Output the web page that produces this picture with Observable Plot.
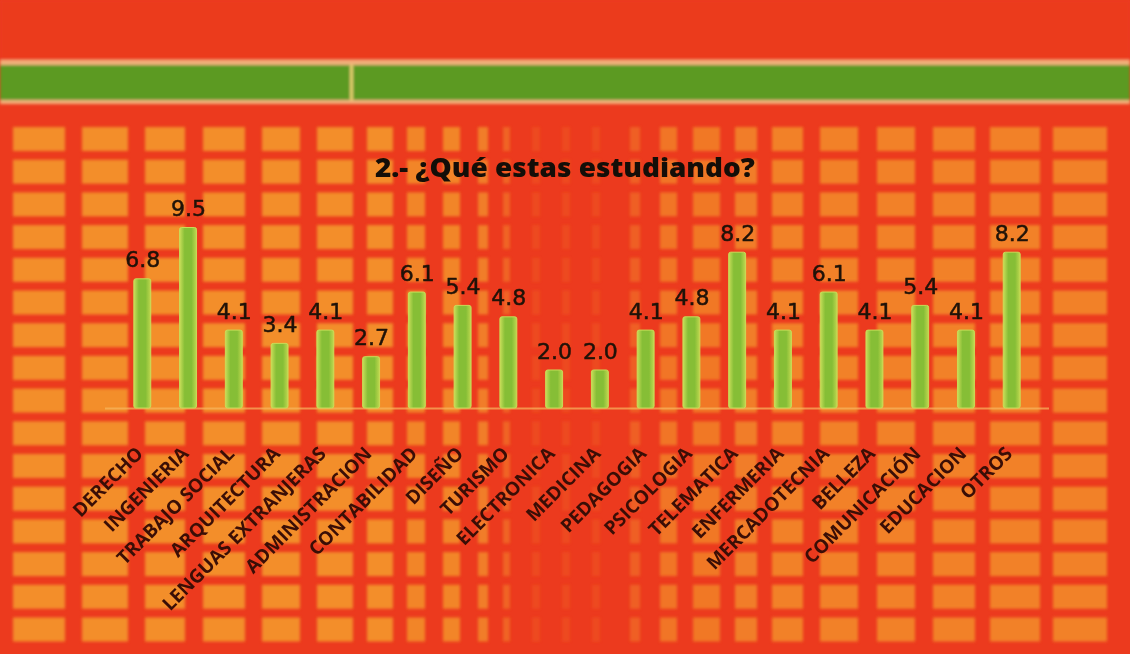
<!DOCTYPE html>
<html>
<head>
<meta charset="utf-8">
<script src="https://cdn.jsdelivr.net/npm/d3@7"></script>
<script src="https://cdn.jsdelivr.net/npm/@observablehq/plot@0.6"></script>
<style>
  body { margin: 0; background: #EC3A1E; }
  #wrap { position: relative; width: 1130px; height: 654px; overflow: hidden; }
  #bg, #chart { position: absolute; left: 0; top: 0; }
  #title {
    position: absolute; left: 0; top: 149px; width: 1130px; text-align: center;
    font-family: "Open Sans", sans-serif; font-weight: 800; font-size: 26px; color: #140E08;
    white-space: nowrap;
  }
  #title span { display: inline-block; transform-origin: center; }
</style>
</head>
<body>
<div id="wrap">
  <div id="bg"></div>
  <div id="chart"></div>
  <div id="title"><span>2.- ¿Qué estas estudiando?</span></div>
</div>
<script>
// ---- data ----
const categories = [
  "DERECHO", "INGENIERIA", "TRABAJO SOCIAL", "ARQUITECTURA", "LENGUAS EXTRANJERAS",
  "ADMINISTRACION", "CONTABILIDAD", "DISEÑO", "TURISMO", "ELECTRONICA",
  "MEDICINA", "PEDAGOGIA", "PSICOLOGIA", "TELEMATICA", "ENFERMERIA",
  "MERCADOTECNIA", "BELLEZA", "COMUNICACIÓN", "EDUCACION", "OTROS"
];
const values = [6.8, 9.5, 4.1, 3.4, 4.1, 2.7, 6.1, 5.4, 4.8, 2.0, 2.0, 4.1, 4.8, 8.2, 4.1, 6.1, 4.1, 5.4, 4.1, 8.2];

const data = categories.map((c, i) => ({cat: c, val: values[i]}));

// ---- decorative background (scanned grid pattern) ----
const W = 1130, H = 654;
const cellCols = [
  [13, 65, 1], [82, 128, 1], [145, 185, 1], [203, 245, 1], [262, 300, 1], [317, 353, 1],
  [367, 393, 1], [407, 425, 0.9], [443, 460, 0.9], [478, 488, 0.8], [503, 510, 0.5],
  [532, 540, 0.2], [562, 570, 0.2], [592, 600, 0.2], [630, 640, 0.45], [660, 677, 0.7],
  [693, 720, 0.75], [735, 757, 0.8], [772, 803, 0.85], [820, 858, 0.85], [877, 915, 0.85],
  [933, 975, 0.85], [990, 1040, 0.85], [1053, 1107, 0.85]
];
const bgSvg = d3.select("#bg").append("svg").attr("width", W).attr("height", H);
const bgDefs = bgSvg.append("defs");
bgDefs.append("filter").attr("id", "blur").append("feGaussianBlur").attr("stdDeviation", 1.8);
bgSvg.append("rect").attr("width", W).attr("height", H).attr("fill", "#EC3A1E");
const cellsG = bgSvg.append("g").attr("filter", "url(#blur)");
for (let k = 0; k < 16; k++) {
  const y0 = 127 + k * 32.7;
  for (const [a, b, o] of cellCols) {
    cellsG.append("rect").attr("x", a).attr("y", y0).attr("width", b - a).attr("height", 24)
      .attr("fill", "#F38E2A").attr("opacity", o);
  }
}
const bandG = bgSvg.append("g").attr("filter", "url(#blur)");
bandG.append("rect").attr("x", 0).attr("y", 0).attr("width", W).attr("height", 60).attr("fill", "#EB3A1D");
bandG.append("rect").attr("x", 0).attr("y", 60).attr("width", W).attr("height", 5).attr("fill", "#F2B07A");
bandG.append("rect").attr("x", 0).attr("y", 65).attr("width", W).attr("height", 35).attr("fill", "#5B9A20");
bandG.append("rect").attr("x", 0).attr("y", 100).attr("width", W).attr("height", 4).attr("fill", "#F2B07A");
bandG.append("rect").attr("x", 350).attr("y", 65).attr("width", 3).attr("height", 35).attr("fill", "#E8D070");

// ---- chart ----
const chart = Plot.plot({
  width: W,
  height: H,
  marginLeft: 105,
  marginRight: 81,
  marginTop: 218,
  marginBottom: 246,
  style: {background: "transparent", overflow: "visible"},
  x: {domain: categories, padding: 0.63, round: false, axis: null},
  y: {domain: [0, 10], axis: null},
  marks: [
    Plot.ruleY([0], {stroke: "#F6B860", strokeOpacity: 0.7, strokeWidth: 2}),
    Plot.barY(data, {x: "cat", y: "val", fill: "url(#barGrad)", stroke: "#C8DC58", strokeWidth: 1, rx: 2}),
    Plot.text(data, {
      x: "cat", y: "val", text: d => d.val.toFixed(1),
      lineAnchor: "bottom", dy: -12,
      fontSize: 22, fontFamily: "DejaVu Sans", fill: "#1E1208",
      stroke: "#1E1208", strokeWidth: 0.5
    }),
    Plot.text(data, {
      x: "cat", y: d => 0, text: "cat",
      rotate: -45, textAnchor: "end", lineAnchor: "middle",
      dx: -3, dy: 42,
      fontSize: 19, fontWeight: "bold", fontFamily: "Open Sans", fill: "#3A0E06"
    })
  ]
});
const grad = d3.select(chart).insert("defs", ":first-child").append("linearGradient")
  .attr("id", "barGrad").attr("x1", "0").attr("x2", "1").attr("y1", "0").attr("y2", "0");
grad.append("stop").attr("offset", "0%").attr("stop-color", "#C9DE5A");
grad.append("stop").attr("offset", "30%").attr("stop-color", "#86BE36");
grad.append("stop").attr("offset", "70%").attr("stop-color", "#86BE36");
grad.append("stop").attr("offset", "100%").attr("stop-color", "#C0D850");
document.getElementById("chart").appendChild(chart);

// fit title width to the reference (~380px)
const span = document.querySelector("#title span");
const tw = span.getBoundingClientRect().width;
span.style.transform = `scaleX(${380 / tw})`;
</script>
</body>
</html>
